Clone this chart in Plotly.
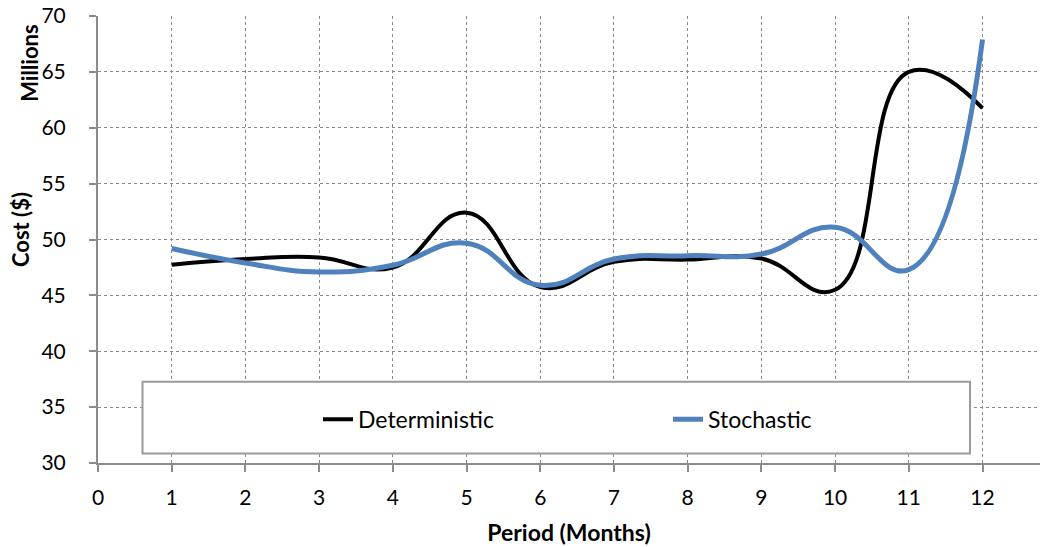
import plotly.graph_objects as go

# Monthly cost, in millions of dollars
periods = [1, 2, 3, 4, 5, 6, 7, 8, 9, 10, 11, 12]
deterministic = [47.75, 48.25, 48.4, 47.5, 52.4, 45.75, 48.0, 48.2, 48.3, 45.5, 65.0, 61.75]
stochastic = [49.2, 47.9, 47.1, 47.7, 49.67, 45.9, 48.25, 48.55, 48.7, 51.1, 47.3, 67.9]

x_ticks = list(range(0, 13))
y_ticks = list(range(30, 71, 5))

FONT = "Lato"
AXIS_GREY = "#8c8c8c"
GRID_GREY = "#8a8a8a"

fig = go.Figure()
fig.add_trace(go.Scatter(
    x=periods, y=deterministic, name="Deterministic", mode="lines",
    line=dict(color="#000000", width=4, shape="spline", smoothing=1.3),
))
fig.add_trace(go.Scatter(
    x=periods, y=stochastic, name="Stochastic", mode="lines",
    line=dict(color="#4f81bd", width=5, shape="spline", smoothing=1.3),
))

# legend frame inside the plot area
fig.add_shape(
    type="rect", xref="paper", yref="paper",
    x0=(142.5 - 98) / 942, x1=(970 - 98) / 942,
    y0=(463 - 453.5) / 449, y1=(463 - 381.5) / 449,
    line=dict(color="#9a9a9a", width=2), fillcolor="white", layer="above",
)

fig.update_layout(
    width=1042, height=547,
    margin=dict(l=98, r=2, t=14, b=84),
    paper_bgcolor="white", plot_bgcolor="white",
    font=dict(family=FONT, size=21, color="#000000"),
    showlegend=True,
    legend=dict(
        orientation="h", x=(318 - 98) / 942, xanchor="left",
        y=(463 - 419) / 449, yanchor="middle",
        bgcolor="rgba(0,0,0,0)", borderwidth=0,
        entrywidth=305, entrywidthmode="pixels",
        font=dict(family=FONT, size=23),
    ),
    xaxis=dict(
        range=[0, 12.78], tickvals=x_ticks, ticktext=[str(v) for v in x_ticks],
        showgrid=True, gridcolor=GRID_GREY, griddash="dot", gridwidth=1,
        showline=True, linecolor=AXIS_GREY, linewidth=2,
        ticks="outside", ticklen=7, tickcolor=AXIS_GREY, tickwidth=2,
        ticklabelstandoff=8, zeroline=False,
        tickfont=dict(family=FONT, size=21),
        title=dict(text="<b>Period (Months)</b>", font=dict(family=FONT, size=23), standoff=17),
    ),
    yaxis=dict(
        range=[30, 70], tickvals=y_ticks,
        showgrid=True, gridcolor=GRID_GREY, griddash="dot", gridwidth=1,
        showline=True, linecolor=AXIS_GREY, linewidth=2,
        ticks="outside", ticklen=7, tickcolor=AXIS_GREY, tickwidth=2,
        ticklabelstandoff=19, zeroline=False,
        tickfont=dict(family=FONT, size=21),
    ),
    annotations=[
        dict(text="<b>Cost ($)</b>", textangle=-90, xref="paper", yref="paper",
             x=(20 - 98) / 942, y=(463 - 229) / 449, xanchor="center", yanchor="middle",
             showarrow=False, font=dict(family=FONT, size=22)),
        dict(text="<b>Millions</b>", textangle=-90, xref="paper", yref="paper",
             x=(30 - 98) / 942, y=(463 - 62) / 449, xanchor="center", yanchor="middle",
             showarrow=False, font=dict(family=FONT, size=22)),
    ],
)

fig.write_html("out.html")
